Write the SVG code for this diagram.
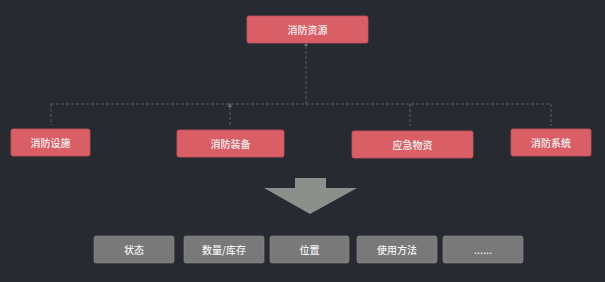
<svg xmlns="http://www.w3.org/2000/svg" width="605" height="282" viewBox="0 0 605 282">
<style>
.r{fill:#d95e66;stroke:#c4545c;stroke-width:0.8}
.g{fill:#797979;stroke:#8a8a8a;stroke-width:0.6}
.t{font-family:"Noto Sans CJK SC","Liberation Sans",sans-serif;font-size:10px;font-weight:500;fill:#f2f2f2;text-anchor:middle;dominant-baseline:central}
.c{fill:none;stroke:#5a5e66;stroke-width:1;stroke-dasharray:3,2}
</style>
<defs>
<marker id="m" viewBox="0 0 6 6" refX="3" refY="3" markerWidth="4" markerHeight="4" orient="auto-start-reverse">
<path d="M0,0 L6,3 L0,6 z" fill="#6a6e76"/>
</marker>
</defs>
<rect width="605" height="282" fill="#272a31"/>
<g id="connectors">
<path class="c" d="M306,104 V44" marker-end="url(#m)"/>
<path class="c" d="M51,104 H551"/>
<path class="c" d="M51,104 V125"/>
<path class="c" d="M230,125 V105" marker-end="url(#m)"/>
<path class="c" d="M410,104 V126"/>
<path class="c" d="M551,104 V126"/>
</g>
<g id="n-top"><rect class="r" x="247" y="16" width="121" height="27" rx="2"/><text class="t" x="307.5" y="29.5">消防资源</text></g>
<g id="n-sheshi"><rect class="r" x="11" y="129" width="79" height="27" rx="2"/><text class="t" x="50.5" y="142.5">消防设施</text></g>
<g id="n-zhuangbei"><rect class="r" x="177" y="130" width="107" height="27" rx="2"/><text class="t" x="230.5" y="143.5">消防装备</text></g>
<g id="n-wuzi"><rect class="r" x="352" y="131" width="121" height="27" rx="2"/><text class="t" x="412.5" y="144.5">应急物资</text></g>
<g id="n-xitong"><rect class="r" x="511" y="129" width="80" height="27" rx="2"/><text class="t" x="551" y="142.5">消防系统</text></g>
<g id="arrow"><path d="M295,178 H326 V188 H357 L310,214 L264,188 H295 Z" fill="#8b908c"/></g>
<g id="b1"><rect class="g" x="94" y="236" width="80" height="27" rx="2"/><text class="t" x="134" y="249.5">状态</text></g>
<g id="b2"><rect class="g" x="184" y="236" width="80" height="27" rx="2"/><text class="t" x="224" y="249.5">数量/库存</text></g>
<g id="b3"><rect class="g" x="270" y="236" width="79" height="27" rx="2"/><text class="t" x="309.5" y="249.5">位置</text></g>
<g id="b4"><rect class="g" x="357" y="236" width="80" height="27" rx="2"/><text class="t" x="397" y="249.5">使用方法</text></g>
<g id="b5"><rect class="g" x="443" y="236" width="80" height="27" rx="2"/><text class="t" x="483" y="249.5">......</text></g>
</svg>
